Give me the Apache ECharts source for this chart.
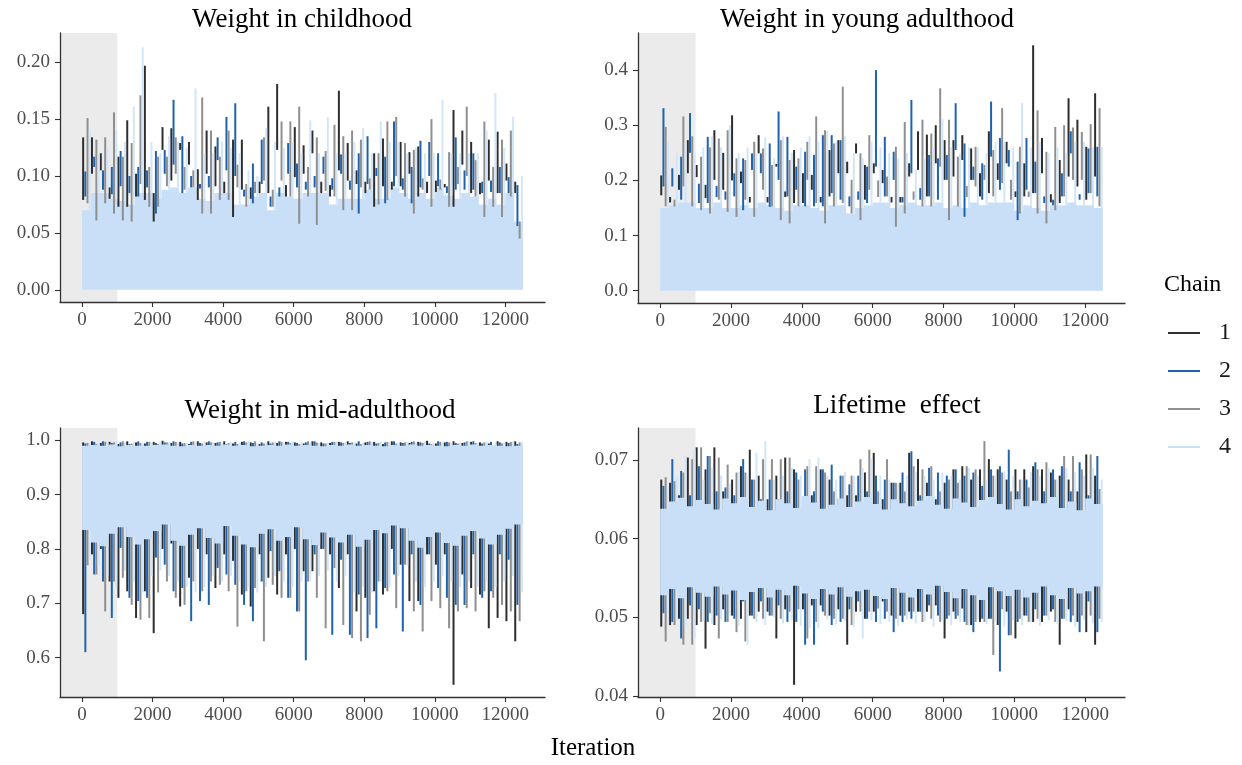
<!DOCTYPE html>
<html><head><meta charset="utf-8">
<script src="https://cdn.jsdelivr.net/npm/echarts@6/dist/echarts.min.js"></script>
<style>html,body{margin:0;padding:0;background:#fff}#c{width:1242px;height:765px}</style>
</head><body><div id="c"></div>
<script>
// ---------- general ----------
const BIN = 250;            // iterations per bin (each bin stores the visible low/high of every chain)
const N_ITER = 12500;
const WARMUP = 1000;
const titles = ['Weight in childhood', 'Weight in young adulthood', 'Weight in mid-adulthood', 'Lifetime  effect'];
const chainNames = ['1', '2', '3', '4'];
const xTicks = [0, 2000, 4000, 6000, 8000, 10000, 12000];
const p1YTicks = [0, 0.05, 0.10, 0.15, 0.20];
const p2YTicks = [0, 0.1, 0.2, 0.3, 0.4];
const p3YTicks = [0.6, 0.7, 0.8, 0.9, 1.0];
const p4YTicks = [0.04, 0.05, 0.06, 0.07];

// ---------- panel 1 : Weight in childhood ----------
const p1c1Hi = [0.134,0.134,0.120,0.090,0.117,0.149,0.102,0.197,0.085,0.143,0.142,0.129,0.130,0.106,0.140,0.126,0.095,0.132,0.132,0.090,0.095,0.161,0.181,0.092,0.143,0.127,0.140,0.095,0.092,0.175,0.129,0.105,0.095,0.120,0.133,0.095,0.130,0.121,0.126,0.095,0.096,0.093,0.158,0.140,0.130,0.094,0.132,0.139,0.111,0.095];
const p1c1Lo = [0.079,0.102,0.105,0.080,0.073,0.073,0.082,0.079,0.060,0.123,0.096,0.123,0.110,0.079,0.102,0.091,0.085,0.064,0.088,0.080,0.085,0.085,0.123,0.082,0.099,0.102,0.120,0.085,0.082,0.105,0.096,0.093,0.085,0.073,0.091,0.088,0.091,0.102,0.082,0.085,0.086,0.090,0.073,0.110,0.085,0.084,0.096,0.085,0.096,0.085];
const p1c2Hi = [0.104,0.117,0.105,0.108,0.122,0.100,0.108,0.105,0.122,0.123,0.167,0.135,0.100,0.093,0.100,0.134,0.152,0.164,0.088,0.111,0.132,0.082,0.090,0.129,0.111,0.095,0.100,0.117,0.098,0.119,0.096,0.120,0.135,0.107,0.117,0.148,0.098,0.108,0.131,0.130,0.120,0.091,0.134,0.105,0.120,0.095,0.096,0.108,0.099,0.092];
const p1c2Lo = [0.082,0.108,0.088,0.084,0.091,0.085,0.082,0.090,0.067,0.102,0.110,0.085,0.090,0.089,0.090,0.114,0.105,0.100,0.082,0.076,0.093,0.073,0.082,0.102,0.090,0.088,0.090,0.102,0.088,0.102,0.088,0.067,0.093,0.100,0.076,0.091,0.088,0.076,0.090,0.100,0.091,0.085,0.088,0.088,0.088,0.085,0.086,0.085,0.085,0.056];
const p1c3Hi = [0.151,0.132,0.134,0.156,0.117,0.129,0.171,0.108,0.117,0.117,0.134,0.108,0.105,0.169,0.140,0.117,0.140,0.110,0.093,0.095,0.134,0.088,0.148,0.148,0.161,0.108,0.134,0.122,0.145,0.135,0.140,0.132,0.098,0.120,0.148,0.152,0.129,0.123,0.098,0.150,0.097,0.121,0.108,0.161,0.114,0.148,0.108,0.132,0.140,0.060];
const p1c3Lo = [0.076,0.061,0.076,0.067,0.061,0.060,0.093,0.073,0.073,0.091,0.102,0.088,0.090,0.067,0.067,0.079,0.079,0.090,0.073,0.085,0.096,0.073,0.096,0.082,0.058,0.082,0.057,0.087,0.082,0.070,0.070,0.090,0.088,0.075,0.079,0.100,0.082,0.067,0.088,0.073,0.088,0.073,0.093,0.100,0.082,0.064,0.073,0.064,0.082,0.045];
const p1c4Floor = 0.0;
const p1c4Band = [0.070,0.085,0.085,0.080,0.078,0.075,0.085,0.085,0.080,0.088,0.090,0.085,0.090,0.080,0.078,0.085,0.085,0.075,0.075,0.082,0.085,0.070,0.085,0.082,0.080,0.085,0.085,0.085,0.075,0.080,0.080,0.080,0.088,0.080,0.080,0.090,0.085,0.080,0.085,0.080,0.090,0.083,0.080,0.085,0.082,0.075,0.080,0.075,0.085,0.060];
const p1c4Hi = [0.140,0.120,0.125,0.140,0.130,0.161,0.213,0.130,0.120,0.135,0.130,0.125,0.177,0.120,0.120,0.130,0.125,0.120,0.105,0.100,0.142,0.130,0.125,0.130,0.120,0.149,0.120,0.152,0.120,0.120,0.130,0.142,0.120,0.148,0.130,0.130,0.120,0.125,0.120,0.120,0.167,0.120,0.120,0.120,0.120,0.140,0.173,0.125,0.152,0.100];

// ---------- panel 2 : Weight in young adulthood ----------
const p2c1Hi = [0.209,0.170,0.210,0.273,0.228,0.192,0.291,0.250,0.318,0.216,0.170,0.282,0.170,0.230,0.180,0.255,0.213,0.210,0.170,0.255,0.273,0.234,0.267,0.228,0.231,0.219,0.170,0.170,0.231,0.289,0.283,0.300,0.273,0.273,0.282,0.258,0.213,0.289,0.231,0.270,0.180,0.231,0.445,0.277,0.175,0.237,0.349,0.310,0.261,0.358];
const p2c1Lo = [0.173,0.160,0.183,0.213,0.206,0.168,0.201,0.183,0.200,0.195,0.160,0.249,0.160,0.225,0.170,0.159,0.159,0.183,0.160,0.171,0.213,0.213,0.249,0.165,0.213,0.195,0.160,0.160,0.207,0.219,0.171,0.231,0.201,0.207,0.237,0.201,0.171,0.177,0.201,0.231,0.170,0.171,0.177,0.213,0.160,0.159,0.207,0.189,0.165,0.207];
const p2c2Hi = [0.331,0.222,0.243,0.322,0.194,0.279,0.190,0.180,0.213,0.240,0.249,0.249,0.267,0.325,0.279,0.225,0.252,0.246,0.282,0.282,0.273,0.171,0.180,0.225,0.400,0.279,0.252,0.170,0.346,0.186,0.246,0.240,0.246,0.340,0.267,0.225,0.231,0.343,0.277,0.255,0.234,0.277,0.234,0.171,0.165,0.213,0.289,0.175,0.258,0.261];
const p2c2Lo = [0.189,0.189,0.165,0.250,0.159,0.159,0.170,0.165,0.171,0.146,0.219,0.213,0.152,0.201,0.171,0.183,0.153,0.153,0.153,0.177,0.165,0.153,0.165,0.159,0.225,0.171,0.201,0.160,0.213,0.165,0.171,0.165,0.201,0.255,0.134,0.201,0.165,0.243,0.183,0.225,0.128,0.183,0.177,0.159,0.155,0.171,0.249,0.165,0.177,0.171];
const p2c3Hi = [0.297,0.165,0.316,0.280,0.243,0.260,0.276,0.291,0.240,0.237,0.270,0.258,0.228,0.273,0.237,0.240,0.270,0.316,0.291,0.267,0.370,0.201,0.249,0.282,0.200,0.207,0.261,0.306,0.180,0.310,0.285,0.367,0.310,0.243,0.190,0.261,0.228,0.255,0.331,0.201,0.261,0.180,0.327,0.252,0.297,0.300,0.296,0.288,0.302,0.331];
const p2c3Lo = [0.153,0.153,0.189,0.153,0.146,0.140,0.165,0.143,0.134,0.165,0.134,0.183,0.153,0.128,0.122,0.153,0.201,0.159,0.122,0.153,0.159,0.140,0.128,0.183,0.170,0.171,0.116,0.140,0.165,0.153,0.153,0.225,0.128,0.153,0.170,0.189,0.201,0.171,0.195,0.165,0.140,0.170,0.140,0.122,0.146,0.171,0.201,0.201,0.177,0.153];
const p2c4Floor = 0.0;
const p2c4Band = [0.150,0.155,0.160,0.160,0.150,0.150,0.160,0.150,0.150,0.155,0.150,0.160,0.155,0.150,0.145,0.155,0.155,0.150,0.145,0.155,0.155,0.140,0.150,0.155,0.160,0.160,0.150,0.155,0.160,0.155,0.155,0.160,0.150,0.155,0.150,0.160,0.155,0.160,0.160,0.160,0.145,0.155,0.150,0.145,0.155,0.155,0.160,0.155,0.155,0.150];
const p2c4Hi = [0.270,0.250,0.270,0.250,0.260,0.280,0.260,0.300,0.250,0.260,0.250,0.279,0.240,0.280,0.250,0.260,0.280,0.270,0.290,0.270,0.280,0.250,0.240,0.270,0.260,0.250,0.240,0.250,0.220,0.240,0.260,0.312,0.260,0.250,0.260,0.260,0.250,0.270,0.270,0.260,0.340,0.260,0.270,0.250,0.260,0.250,0.270,0.270,0.260,0.260];

// ---------- panel 3 : Weight in mid-adulthood ----------
const p3c1Lo = [0.680,0.790,0.800,0.740,0.710,0.722,0.673,0.722,0.645,0.800,0.810,0.694,0.747,0.800,0.790,0.728,0.790,0.778,0.716,0.694,0.790,0.747,0.716,0.790,0.800,0.759,0.759,0.800,0.790,0.728,0.790,0.685,0.710,0.722,0.716,0.800,0.771,0.704,0.704,0.790,0.771,0.790,0.550,0.753,0.728,0.716,0.654,0.673,0.667,0.630];
const p3c1Hi = [0.996,0.998,0.995,0.997,0.993,0.998,0.996,0.994,0.997,0.999,0.995,0.997,0.993,0.998,0.996,0.995,0.998,0.994,0.997,0.996,0.993,0.998,0.995,0.997,0.996,0.994,0.998,0.996,0.995,0.997,0.998,0.994,0.996,0.997,0.993,0.998,0.996,0.995,0.997,0.999,0.994,0.996,0.998,0.995,0.997,0.996,0.994,0.998,0.997,0.998];
const p3c2Lo = [0.610,0.753,0.740,0.673,0.802,0.710,0.704,0.710,0.784,0.771,0.722,0.728,0.667,0.704,0.697,0.765,0.753,0.734,0.697,0.667,0.740,0.796,0.759,0.710,0.685,0.595,0.790,0.800,0.642,0.780,0.642,0.716,0.636,0.654,0.728,0.753,0.648,0.790,0.697,0.790,0.728,0.710,0.697,0.697,0.790,0.710,0.722,0.790,0.780,0.697];
const p3c2Hi = [0.994,0.997,0.998,0.995,0.996,0.993,0.998,0.997,0.995,0.996,0.998,0.994,0.997,0.995,0.998,0.996,0.993,0.997,0.998,0.995,0.996,0.994,0.998,0.997,0.995,0.996,0.998,0.994,0.997,0.996,0.995,0.998,0.997,0.994,0.996,0.998,0.995,0.997,0.996,0.994,0.998,0.997,0.995,0.996,0.998,0.994,0.997,0.996,0.995,0.993];
const p3c3Lo = [0.770,0.753,0.685,0.740,0.747,0.697,0.670,0.673,0.720,0.740,0.710,0.697,0.740,0.722,0.740,0.734,0.722,0.657,0.722,0.728,0.630,0.734,0.710,0.710,0.685,0.740,0.710,0.654,0.765,0.660,0.636,0.630,0.679,0.740,0.722,0.691,0.771,0.685,0.648,0.704,0.691,0.654,0.685,0.691,0.685,0.722,0.710,0.697,0.685,0.667];
const p3c3Hi = [0.995,0.993,0.997,0.996,0.998,0.994,0.995,0.997,0.993,0.996,0.997,0.995,0.998,0.994,0.996,0.997,0.995,0.993,0.996,0.998,0.994,0.996,0.997,0.995,0.993,0.998,0.996,0.994,0.997,0.995,0.996,0.993,0.998,0.995,0.997,0.994,0.996,0.998,0.995,0.993,0.997,0.996,0.994,0.998,0.995,0.996,0.975,0.994,0.997,0.996];
const p3c4Lo = [0.780,0.770,0.750,0.730,0.760,0.740,0.720,0.750,0.760,0.750,0.740,0.730,0.720,0.730,0.750,0.740,0.750,0.740,0.730,0.720,0.730,0.750,0.740,0.730,0.740,0.740,0.750,0.760,0.740,0.750,0.720,0.730,0.720,0.740,0.730,0.750,0.770,0.740,0.730,0.740,0.750,0.740,0.730,0.740,0.730,0.740,0.730,0.740,0.750,0.720];
const p3c4BandLo = [0.835,0.812,0.805,0.828,0.840,0.822,0.808,0.818,0.833,0.845,0.815,0.806,0.826,0.838,0.820,0.810,0.842,0.824,0.808,0.803,0.828,0.836,0.815,0.822,0.840,0.818,0.807,0.830,0.821,0.812,0.826,0.804,0.817,0.835,0.829,0.843,0.838,0.815,0.802,0.822,0.830,0.811,0.806,0.824,0.833,0.819,0.808,0.826,0.837,0.845];
const p3c4BandHi = [0.990,0.991,0.990,0.992,0.989,0.991,0.990,0.990,0.991,0.992,0.990,0.989,0.991,0.990,0.991,0.990,0.992,0.990,0.991,0.989,0.990,0.991,0.990,0.992,0.990,0.991,0.990,0.989,0.991,0.990,0.992,0.990,0.991,0.990,0.989,0.991,0.990,0.992,0.990,0.991,0.990,0.989,0.991,0.990,0.992,0.990,0.991,0.990,0.989,0.990];
const p3c4Hi = [0.996,0.997,0.995,0.998,0.996,0.997,0.995,0.996,0.998,0.997,0.996,0.995,0.997,0.998,0.996,0.995,0.997,0.996,0.998,0.995,0.996,0.997,0.995,0.998,0.996,0.997,0.995,0.996,0.998,0.997,0.996,0.995,0.997,0.998,0.996,0.995,0.997,0.996,0.998,0.995,0.996,0.997,0.995,0.998,0.996,0.997,0.995,0.996,0.998,0.997];

// ---------- panel 4 : Lifetime effect ----------
const p4c1Hi = [0.0675,0.0671,0.0655,0.0703,0.0716,0.0688,0.0716,0.0660,0.0675,0.0692,0.0713,0.0680,0.0650,0.0680,0.0703,0.0688,0.0650,0.0655,0.0688,0.0675,0.0650,0.0655,0.0655,0.0684,0.0709,0.0650,0.0671,0.0671,0.0709,0.0701,0.0671,0.0650,0.0671,0.0688,0.0692,0.0675,0.0688,0.0701,0.0688,0.0675,0.0688,0.0688,0.0692,0.0688,0.0684,0.0680,0.0675,0.0660,0.0707,0.0680];
const p4c1Lo = [0.0488,0.0490,0.0498,0.0498,0.0490,0.0460,0.0490,0.0510,0.0502,0.0498,0.0502,0.0507,0.0507,0.0473,0.0510,0.0414,0.0510,0.0515,0.0515,0.0502,0.0510,0.0465,0.0507,0.0498,0.0507,0.0520,0.0502,0.0502,0.0507,0.0507,0.0507,0.0515,0.0473,0.0507,0.0511,0.0490,0.0494,0.0498,0.0490,0.0507,0.0473,0.0502,0.0494,0.0494,0.0507,0.0465,0.0510,0.0494,0.0481,0.0465];
const p4c2Hi = [0.0667,0.0701,0.0686,0.0655,0.0692,0.0705,0.0660,0.0665,0.0655,0.0701,0.0675,0.0650,0.0675,0.0650,0.0660,0.0684,0.0688,0.0660,0.0688,0.0694,0.0680,0.0669,0.0680,0.0660,0.0680,0.0675,0.0671,0.0684,0.0711,0.0655,0.0690,0.0684,0.0680,0.0688,0.0680,0.0684,0.0667,0.0688,0.0692,0.0713,0.0660,0.0675,0.0697,0.0660,0.0688,0.0692,0.0660,0.0697,0.0655,0.0705];
const p4c2Lo = [0.0505,0.0494,0.0473,0.0515,0.0510,0.0494,0.0502,0.0494,0.0498,0.0520,0.0502,0.0520,0.0502,0.0515,0.0494,0.0494,0.0465,0.0465,0.0507,0.0490,0.0494,0.0510,0.0520,0.0498,0.0494,0.0498,0.0481,0.0494,0.0498,0.0507,0.0515,0.0502,0.0498,0.0498,0.0494,0.0481,0.0498,0.0498,0.0431,0.0477,0.0494,0.0502,0.0510,0.0502,0.0510,0.0498,0.0494,0.0481,0.0520,0.0481];
const p4c3Hi = [0.0678,0.0673,0.0684,0.0701,0.0716,0.0705,0.0703,0.0694,0.0684,0.0684,0.0675,0.0701,0.0701,0.0701,0.0703,0.0675,0.0692,0.0692,0.0684,0.0660,0.0680,0.0680,0.0701,0.0713,0.0660,0.0701,0.0671,0.0660,0.0692,0.0688,0.0692,0.0660,0.0675,0.0671,0.0692,0.0688,0.0724,0.0680,0.0684,0.0660,0.0675,0.0665,0.0688,0.0697,0.0675,0.0705,0.0705,0.0688,0.0707,0.0663];
const p4c3Lo = [0.0469,0.0490,0.0465,0.0465,0.0494,0.0505,0.0473,0.0494,0.0481,0.0469,0.0498,0.0498,0.0502,0.0498,0.0507,0.0510,0.0473,0.0494,0.0502,0.0498,0.0498,0.0490,0.0507,0.0507,0.0511,0.0507,0.0498,0.0502,0.0507,0.0494,0.0498,0.0494,0.0502,0.0502,0.0490,0.0494,0.0494,0.0452,0.0510,0.0477,0.0498,0.0494,0.0498,0.0502,0.0494,0.0498,0.0502,0.0502,0.0502,0.0498];
const p4c4Lo = [0.0490,0.0496,0.0488,0.0473,0.0495,0.0491,0.0497,0.0502,0.0489,0.0465,0.0494,0.0490,0.0500,0.0492,0.0496,0.0489,0.0486,0.0486,0.0497,0.0491,0.0495,0.0488,0.0473,0.0496,0.0491,0.0494,0.0489,0.0497,0.0492,0.0495,0.0488,0.0496,0.0490,0.0494,0.0489,0.0497,0.0491,0.0495,0.0488,0.0496,0.0490,0.0494,0.0489,0.0496,0.0491,0.0495,0.0488,0.0496,0.0492,0.0494];
const p4c4BandLo = [0.0528,0.0536,0.0524,0.0538,0.0531,0.0526,0.0539,0.0529,0.0534,0.0522,0.0532,0.0537,0.0525,0.0535,0.0528,0.0540,0.0530,0.0523,0.0536,0.0529,0.0538,0.0526,0.0533,0.0535,0.0527,0.0523,0.0537,0.0531,0.0525,0.0536,0.0529,0.0540,0.0532,0.0524,0.0536,0.0528,0.0522,0.0538,0.0533,0.0527,0.0535,0.0525,0.0531,0.0539,0.0528,0.0523,0.0537,0.0530,0.0533,0.0539];
const p4c4BandHi = [0.0638,0.0647,0.0652,0.0641,0.0649,0.0644,0.0637,0.0651,0.0645,0.0653,0.0640,0.0648,0.0636,0.0650,0.0645,0.0639,0.0654,0.0646,0.0638,0.0643,0.0651,0.0640,0.0647,0.0653,0.0644,0.0637,0.0650,0.0645,0.0641,0.0648,0.0654,0.0643,0.0638,0.0651,0.0646,0.0640,0.0649,0.0653,0.0644,0.0637,0.0650,0.0641,0.0648,0.0645,0.0653,0.0639,0.0647,0.0636,0.0651,0.0644];
const p4c4Hi = [0.0665,0.0680,0.0705,0.0713,0.0675,0.0690,0.0680,0.0670,0.0685,0.0680,0.0709,0.0724,0.0675,0.0680,0.0690,0.0680,0.0701,0.0703,0.0680,0.0675,0.0685,0.0680,0.0690,0.0701,0.0680,0.0675,0.0670,0.0680,0.0685,0.0680,0.0675,0.0684,0.0680,0.0675,0.0690,0.0680,0.0675,0.0680,0.0685,0.0680,0.0675,0.0685,0.0680,0.0690,0.0675,0.0690,0.0685,0.0680,0.0690,0.0675];

// ---------- drawing ----------
const FONT = '"Liberation Serif", "Times New Roman", serif';
const X_MIN = -625, X_MAX = 13125;
const COLORS = ['#2e2e2e', '#1f63ad', '#8f8f8f', '#c8dff7'];
const SPIKE4 = '#d3e5f8';
const WARM = '#ebebeb';
const STROKE_W = 2.0;

const panels = [
  { grid: {left: 60, top: 33, width: 485, height: 269}, y: [-0.01075, 0.22575], ticks: p1YTicks, dec: 2, under: false,
    chains: [[p1c1Lo, p1c1Hi], [p1c2Lo, p1c2Hi], [p1c3Lo, p1c3Hi]], c4: [p1c4Band, p1c4Hi], band: [p1c4Floor, p1c4Band] },
  { grid: {left: 638, top: 33, width: 487, height: 270}, y: [-0.02225, 0.46725], ticks: p2YTicks, dec: 1, under: false,
    chains: [[p2c1Lo, p2c1Hi], [p2c2Lo, p2c2Hi], [p2c3Lo, p2c3Hi]], c4: [p2c4Band, p2c4Hi], band: [p2c4Floor, p2c4Band] },
  { grid: {left: 60, top: 428, width: 485, height: 269}, y: [0.5275, 1.0225], ticks: p3YTicks, dec: 1, under: true,
    chains: [[p3c1Lo, p3c1Hi], [p3c2Lo, p3c2Hi], [p3c3Lo, p3c3Hi]], c4: [p3c4Lo, p3c4Hi], band: [p3c4BandLo, p3c4BandHi] },
  { grid: {left: 638, top: 428, width: 487, height: 269}, y: [0.03985, 0.07406], ticks: p4YTicks, dec: 2, under: true,
    chains: [[p4c1Lo, p4c1Hi], [p4c2Lo, p4c2Hi], [p4c3Lo, p4c3Hi]], c4: [p4c4Lo, p4c4Hi], band: [p4c4BandLo, p4c4BandHi] }
];

function strokeSeries(gi, name, color, lo, hi, slot, z) {
  const data = lo.map((l, k) => [k * BIN + (slot + 0.5) * BIN / 4, l, hi[k]]);
  return {
    type: 'custom', name, xAxisIndex: gi, yAxisIndex: gi, z, clip: true, silent: true,
    itemStyle: {color: COLORS[chainNames.indexOf(name)]}, encode: {x: 0, y: [1, 2]}, data,
    renderItem: (params, api) => {
      const a = api.coord([api.value(0), api.value(2)]);
      const b = api.coord([api.value(0), api.value(1)]);
      return {type: 'rect', shape: {x: a[0] - STROKE_W / 2, y: a[1], width: STROKE_W, height: Math.max(1, b[1] - a[1])}, style: {fill: color}};
    }
  };
}

// dense core of chain 4: one flat step per bin, from the bin's start to its end
function bandSeries(gi, lo, hi, z) {
  const data = hi.map((h, k) => [k * BIN, (k + 1) * BIN, Array.isArray(lo) ? lo[k] : lo, h]);
  return {
    type: 'custom', name: '4', xAxisIndex: gi, yAxisIndex: gi, z, clip: true, silent: true,
    itemStyle: {color: COLORS[3]}, encode: {x: [0, 1], y: [2, 3]}, data,
    renderItem: (params, api) => {
      if (params.dataIndex !== 0) return null;
      const top = [], bot = [];
      data.forEach(d => {
        top.push(api.coord([d[0], d[3]])); top.push(api.coord([d[1], d[3]]));
        bot.push(api.coord([d[0], d[2]])); bot.push(api.coord([d[1], d[2]]));
      });
      return {type: 'polygon', shape: {points: top.concat(bot.reverse())}, style: {fill: COLORS[3]}};
    }
  };
}

function warmSeries(gi, y) {
  return {
    type: 'custom', xAxisIndex: gi, yAxisIndex: gi, z: 0, clip: true, silent: true,
    data: [[X_MIN, WARMUP, y[0], y[1]]], encode: {x: [0, 1], y: [2, 3]},
    renderItem: (params, api) => {
      const a = api.coord([api.value(0), api.value(3)]);
      const b = api.coord([api.value(1), api.value(2)]);
      return {type: 'rect', shape: {x: a[0], y: a[1], width: b[0] - a[0], height: b[1] - a[1]}, style: {fill: WARM}};
    }
  };
}

const series = [];
panels.forEach((p, gi) => {
  series.push(warmSeries(gi, p.y));
  if (!p.under) series.push(bandSeries(gi, p.band[0], p.band[1], 1));
  p.chains.forEach((c, ci) => series.push(strokeSeries(gi, chainNames[ci], COLORS[ci], c[0], c[1], ci, 2)));
  series.push(strokeSeries(gi, '4', SPIKE4, p.c4[0], p.c4[1], 3, 3));
  if (p.under) series.push(bandSeries(gi, p.band[0], p.band[1], 4));
});

const option = {
  animation: false,
  backgroundColor: '#ffffff',
  grid: panels.map(p => p.grid),
  xAxis: panels.map((p, i) => ({
    gridIndex: i, type: 'value', min: X_MIN, max: X_MAX,
    axisLine: {show: true, onZero: false, lineStyle: {color: '#333333', width: 1.3}},
    axisTick: {show: true, length: 5, customValues: xTicks, lineStyle: {color: '#333333', width: 1.1}},
    axisLabel: {customValues: xTicks, color: '#4d4d4d', fontSize: 19, fontFamily: FONT, margin: 9,
      formatter: v => String(Math.round(v))},
    splitLine: {show: false}
  })),
  yAxis: panels.map((p, i) => ({
    gridIndex: i, type: 'value', min: p.y[0], max: p.y[1],
    axisLine: {show: true, onZero: false, lineStyle: {color: '#333333', width: 1.3}},
    axisTick: {show: true, length: 5, customValues: p.ticks, lineStyle: {color: '#333333', width: 1.1}},
    axisLabel: {customValues: p.ticks, color: '#4d4d4d', fontSize: 19, fontFamily: FONT, margin: 10,
      formatter: v => Number(v).toFixed(p.dec)},
    splitLine: {show: false}
  })),
  legend: {
    data: chainNames, orient: 'vertical', left: 1163, top: 316, itemWidth: 32, itemHeight: 2, itemGap: 14,
    icon: 'rect', selectedMode: false,
    textStyle: {fontFamily: FONT, fontSize: 24, color: '#1a1a1a', padding: [0, 0, 0, 14]}
  },
  graphic: [
    {type: 'text', x: 302, y: 20, style: {text: titles[0], font: '27px ' + FONT, fill: '#000', textAlign: 'center', textVerticalAlign: 'middle', align: 'center', verticalAlign: 'middle'}},
    {type: 'text', x: 867, y: 20, style: {text: titles[1], font: '27px ' + FONT, fill: '#000', textAlign: 'center', textVerticalAlign: 'middle', align: 'center', verticalAlign: 'middle'}},
    {type: 'text', x: 320, y: 411, style: {text: titles[2], font: '27px ' + FONT, fill: '#000', textAlign: 'center', textVerticalAlign: 'middle', align: 'center', verticalAlign: 'middle'}},
    {type: 'text', x: 897, y: 406, style: {text: titles[3], font: '27px ' + FONT, fill: '#000', textAlign: 'center', textVerticalAlign: 'middle', align: 'center', verticalAlign: 'middle'}},
    {type: 'text', x: 593, y: 748, style: {text: 'Iteration', font: '25px ' + FONT, fill: '#000', textAlign: 'center', textVerticalAlign: 'middle', align: 'center', verticalAlign: 'middle'}},
    {type: 'text', x: 1164, y: 285, style: {text: 'Chain', font: '24px ' + FONT, fill: '#000', textAlign: 'left', textVerticalAlign: 'middle', align: 'left', verticalAlign: 'middle'}}
  ],
  series
};

const chart = echarts.init(document.getElementById('c'), null, {renderer: 'canvas'});
chart.setOption(option);
</script>
</body></html>
